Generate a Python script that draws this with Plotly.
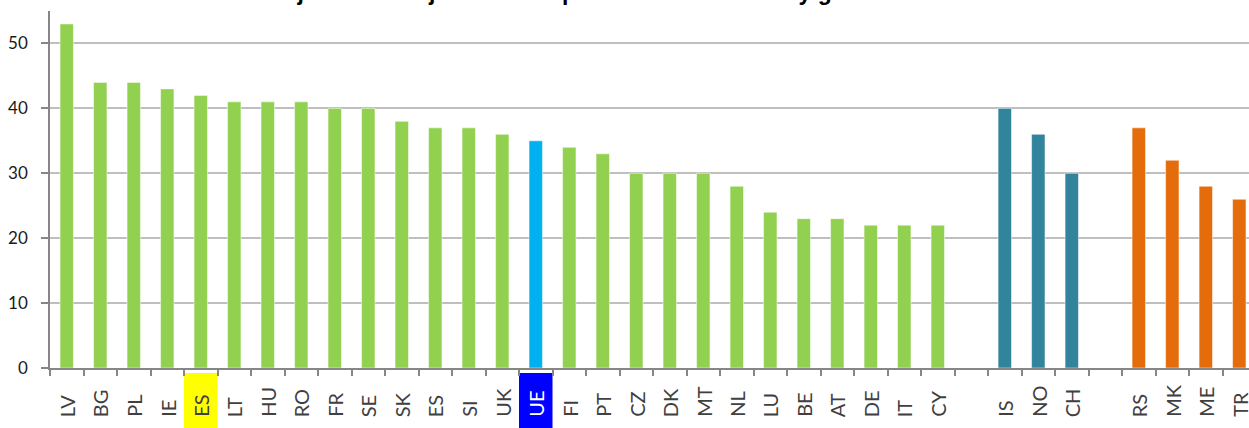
import plotly.graph_objects as go

# Porcentaje de mujeres en puestos de dirección, por país
eu_countries = ['LV', 'BG', 'PL', 'IE', 'ES', 'LT', 'HU', 'RO', 'FR', 'SE', 'SK', 'ES', 'SI', 'UK',
                'UE', 'FI', 'PT', 'CZ', 'DK', 'MT', 'NL', 'LU', 'BE', 'AT', 'DE', 'IT', 'CY']
eu_values = [53, 44, 44, 43, 42, 41, 41, 41, 40, 40, 38, 37, 37, 36,
             35, 34, 33, 30, 30, 30, 28, 24, 23, 23, 22, 22, 22]
efta_countries = ['IS', 'NO', 'CH']
efta_values = [40, 36, 30]
cand_countries = ['RS', 'MK', 'ME', 'TR']
cand_values = [37, 32, 28, 26]

title = "Porcentaje de las mujeres en los puestos de dirección y gerencia en el año 2015"

GREEN = '#92D050'
BLUE = '#00B0F0'
TEAL = '#31849B'
ORANGE = '#E46C0A'
AXIS = '#868686'

# positions: EU block, gap, EFTA block, gap, candidates
labels = eu_countries + [''] + efta_countries + [''] + cand_countries
x_eu = list(range(len(eu_countries)))
x_efta = [len(eu_countries) + 1 + i for i in range(len(efta_countries))]
x_cand = [x_efta[-1] + 2 + i for i in range(len(cand_countries))]

eu_colors = [BLUE if c == 'UE' else GREEN for c in eu_countries]

fig = go.Figure()
fig.add_trace(go.Bar(x=x_eu, y=eu_values, marker_color=eu_colors, width=0.4,
                     marker_line=dict(color='white', width=0.5)))
fig.add_trace(go.Bar(x=x_efta, y=efta_values, marker_color=TEAL, width=0.4,
                     marker_line=dict(color='white', width=0.5)))
fig.add_trace(go.Bar(x=x_cand, y=cand_values, marker_color=ORANGE, width=0.4,
                     marker_line=dict(color='white', width=0.5)))

# highlighted labels: first ES (yellow) and UE (blue)
es_idx = eu_countries.index('ES')
ue_idx = eu_countries.index('UE')
for idx, col in [(es_idx, '#FFFF00'), (ue_idx, '#0000FF')]:
    fig.add_shape(type='rect', xref='x', yref='paper', x0=idx - 0.5, x1=idx + 0.5,
                  y0=-0.17, y1=-0.014, fillcolor=col, line_width=0, layer='below')

# category labels, rotated and aligned at their start (bottom)
for i, lab in enumerate(labels):
    if not lab:
        continue
    fig.add_annotation(text=lab, x=i, xref='x', y=-0.143, yref='paper',
                       xanchor='center', yanchor='bottom', textangle=-90,
                       showarrow=False,
                       font=dict(family='Lato, Liberation Sans, Arial', size=20,
                                 color='white' if i == ue_idx else '#404040'))

# title sits mostly above the top edge, as in the source image
fig.add_annotation(text='<b>' + title + '</b>', xref='paper', yref='paper',
                   x=0.4896, y=1, xanchor='center', yanchor='bottom', yshift=4,
                   showarrow=False,
                   font=dict(family='Liberation Sans, Arial', size=23, color='black'))

n = len(labels)
fig.update_layout(
    width=1249, height=428,
    margin=dict(l=50, r=0, t=11, b=60, autoexpand=False),
    plot_bgcolor='white', paper_bgcolor='white',
    showlegend=False,
    font=dict(family='Lato, Liberation Sans, Arial', color='#262626'),
)
fig.update_xaxes(
    range=[-0.5, n - 0.71], automargin=False,
    tickmode='array', tickvals=list(range(n)), showticklabels=False, ticks='',
    showline=True, linecolor=AXIS, linewidth=1.5, showgrid=False, zeroline=False,
    minor=dict(tickmode='array', tickvals=[i - 0.5 for i in range(n + 1)],
               ticks='outside', ticklen=6, tickcolor=AXIS, tickwidth=1.5, showgrid=False),
)
fig.update_yaxes(
    range=[0, 55], tickvals=[0, 10, 20, 30, 40, 50], automargin=False,
    ticks='outside', ticklen=7, tickcolor=AXIS, tickwidth=1.5,
    tickfont=dict(size=17, color='#1A1A1A'), ticklabelstandoff=10,
    showline=True, linecolor=AXIS, linewidth=1.5,
    showgrid=True, gridcolor='#BFBFBF', gridwidth=2, zeroline=False,
)

fig.write_html("out.html", config={'displayModeBar': False},
               post_script="document.body.style.margin='0';")
